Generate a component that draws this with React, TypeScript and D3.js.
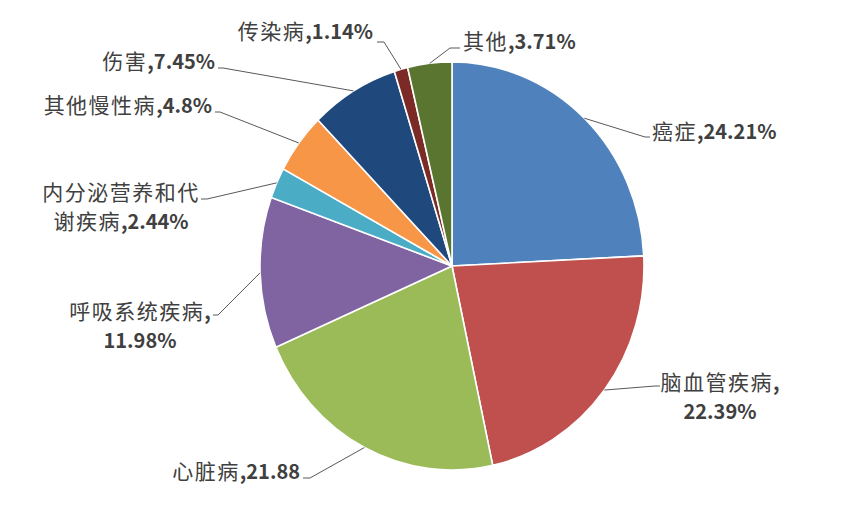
import React, { useEffect, useRef } from "react";
import * as d3 from "d3";

// categories and shares (%), clockwise from 12 o'clock
const categories = [
  "癌症",
  "脑血管疾病",
  "心脏病",
  "呼吸系统疾病",
  "内分泌营养和代谢疾病",
  "其他慢性病",
  "伤害",
  "传染病",
  "其他",
];
const values = [24.21, 22.39, 21.88, 11.98, 2.44, 4.8, 7.45, 1.14, 3.71];
const valueLabels = ["24.21%", "22.39%", "21.88", "11.98%", "2.44%", "4.8%", "7.45%", "1.14%", "3.71%"];
const colors = ["#4F81BD", "#C0504D", "#9BBB59", "#8064A2", "#4BACC6", "#F79646", "#1F497D", "#7B2A26", "#5A7530"];

// label layout: text anchor point, line break position, leader elbow and end
const labelLayout = [
  { x: 652, y: 132, anchor: "start", breakAt: 0, elbow: [645, 137], end: [650, 137] },
  { x: 720, y: 383, anchor: "middle", breakAt: 6, elbow: [655, 386], end: [660, 386] },
  { x: 300, y: 472, anchor: "end", breakAt: 0, elbow: [310, 478], end: [303, 478] },
  { x: 140, y: 312, anchor: "middle", breakAt: 7, elbow: [218, 315], end: [213, 315] },
  { x: 121, y: 193, anchor: "middle", breakAt: 7, elbow: [207, 199], end: [201, 199] },
  { x: 212, y: 106, anchor: "end", breakAt: 0, elbow: [220, 112], end: [215, 112] },
  { x: 215, y: 62, anchor: "end", breakAt: 0, elbow: [223, 68], end: [218, 68] },
  { x: 373, y: 32, anchor: "end", breakAt: 0, elbow: [384, 42], end: [377, 42] },
  { x: 463, y: 42, anchor: "start", breakAt: 0, elbow: [450, 48], end: [460, 48] },
];

const W = 847;
const H = 516;
const cx = 452;
const cy = 266;
const rx = 192;
const ry = 204;
const lineGap = 29;

function App() {
  const ref = useRef(null);

  useEffect(() => {
    const svg = d3.select(ref.current);
    svg.selectAll("*").remove();

    const data = categories.map((c, i) => ({ name: c, value: values[i], label: valueLabels[i] }));
    const arcs = d3
      .pie<any>()
      .sort(null)
      .value((d: any) => d.value)(data);

    const arc = d3.arc<any>().innerRadius(0).outerRadius(ry);

    // pie is slightly squashed horizontally in the picture
    svg
      .append("g")
      .attr("transform", `translate(${cx},${cy}) scale(${rx / ry},1)`)
      .selectAll("path")
      .data(arcs)
      .enter()
      .append("path")
      .attr("d", arc as any)
      .attr("fill", (d: any, i: number) => colors[i])
      .attr("stroke", "#fff")
      .attr("stroke-width", 1.6)
      .attr("vector-effect", "non-scaling-stroke");

    // leader lines
    const line = d3.line();
    svg
      .append("g")
      .selectAll("path")
      .data(arcs)
      .enter()
      .append("path")
      .attr("d", (d: any, i: number) => {
        const a = (d.startAngle + d.endAngle) / 2;
        const sx = cx + rx * Math.sin(a);
        const sy = cy - ry * Math.cos(a);
        const l = labelLayout[i];
        return line([[sx, sy], l.elbow as [number, number], l.end as [number, number]]);
      })
      .attr("fill", "none")
      .attr("stroke", "#595959")
      .attr("stroke-width", 1);

    // labels
    const labels = svg
      .append("g")
      .style("font-family", "'Noto Sans CJK SC', sans-serif")
      .style("font-size", "20px")
      .attr("fill", "#404040");

    data.forEach((d, i) => {
      const l = labelLayout[i];
      const full = d.name + "," + d.label;
      const lines = l.breakAt ? [full.slice(0, l.breakAt), full.slice(l.breakAt)] : [full];
      lines.forEach((t, j) => {
        const m = t.match(/^([^,\d]*)(.*)$/) || ["", t, ""];
        const text = labels
          .append("text")
          .attr("x", l.x)
          .attr("y", l.y + j * lineGap)
          .attr("dy", "0.36em")
          .attr("text-anchor", l.anchor);
        if (m[1])
          text
            .append("tspan")
            .attr("font-size", 21)
            .attr("letter-spacing", 1.5)
            .text(m[1]);
        if (m[2]) text.append("tspan").attr("font-weight", 700).text(m[2]);
      });
    });
  }, []);

  return (
    <div style={{ position: "absolute", left: 0, top: 0 }}>
      <svg ref={ref} width={W} height={H} style={{ display: "block", background: "#fff" }} />
    </div>
  );
}

export default App;
